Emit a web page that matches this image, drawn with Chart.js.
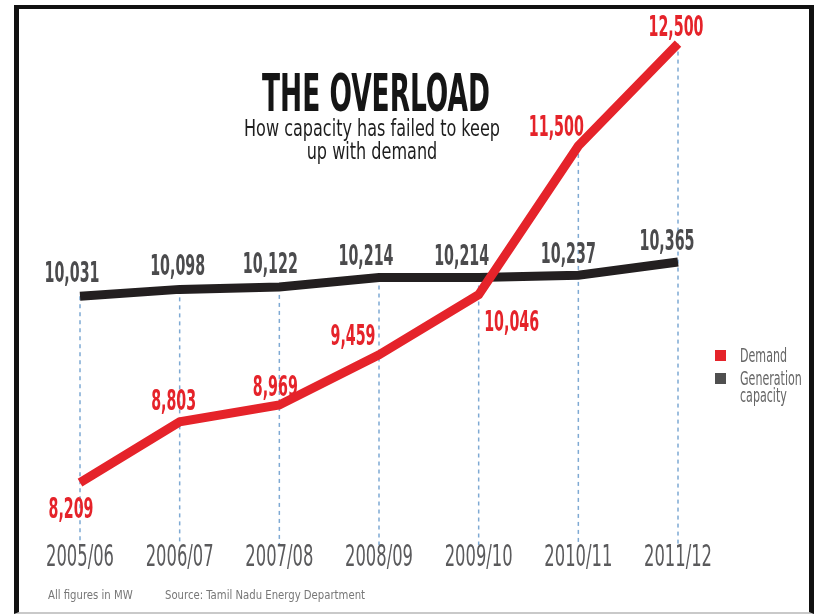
<!DOCTYPE html>
<html>
<head>
<meta charset="utf-8">
<script src="https://cdn.jsdelivr.net/npm/chart.js@4/dist/chart.umd.min.js"></script>
<style>
  html, body { margin: 0; padding: 0; background: #fff; }
  #wrap { position: relative; width: 819px; height: 616px; }
  #chart { position: absolute; left: 0; top: 0; }
  #frame {
    position: absolute; left: 14px; top: 5px; width: 790px; height: 603px;
    border: 5px solid #111; border-top-width: 4px; border-bottom: 2px solid #c9c9c9;
    pointer-events: none;
  }
</style>
</head>
<body>
<div id="wrap">
  <canvas id="chart" width="819" height="616"></canvas>
  <div id="frame"></div>
</div>
<script>
const seasons = ["2005/06", "2006/07", "2007/08", "2008/09", "2009/10", "2010/11", "2011/12"];
const demand = [8209, 8803, 8969, 9459, 10046, 11500, 12500];
const generation = [10031, 10098, 10122, 10214, 10214, 10237, 10365];

const RED = "#e5232a";
const BLACK = "#231f20";
const GREY_TEXT = "#4b4b4d";
const NARROW = '"Liberation Sans Narrow", "DejaVu Sans Condensed", "Liberation Sans", sans-serif';

// where each value label sits relative to its point
const LABEL_OFFSETS = {
  demand: [[-9, 35], [-6, -12], [-4, -9], [-26, -10], [33, 36], [-22, -10], [-2, -8]],
  generation: [[-8, -14], [-2, -14], [-9, -14], [-13, -13], [-17, -13], [-10, -12], [-11, -12]],
};

const fmt = (n) => new Intl.NumberFormat("en-US").format(n);

// draw text squeezed horizontally by sx
function drawText(ctx, text, x, y, font, color, sx, align) {
  ctx.save();
  ctx.font = font;
  ctx.fillStyle = color;
  ctx.textAlign = "left";
  ctx.textBaseline = "alphabetic";
  const w = ctx.measureText(text).width * sx;
  const left = align === "center" ? x - w / 2 : align === "right" ? x - w : x;
  ctx.translate(left, y);
  ctx.scale(sx, 1);
  ctx.fillText(text, 0, 0);
  ctx.restore();
}

function squeezeFor(ctx, font, sample, width) {
  ctx.save();
  ctx.font = font;
  const w = ctx.measureText(sample).width;
  ctx.restore();
  return width / w;
}

const overlay = {
  id: "overlay",
  beforeDatasetsDraw(chart) {
    const { ctx, chartArea, scales } = chart;
    ctx.save();
    ctx.strokeStyle = "#7ea9d3";
    ctx.lineWidth = 1.5;
    ctx.setLineDash([4, 4]);
    seasons.forEach((s, i) => {
      const x = scales.x.getPixelForValue(i);
      const top = Math.min(scales.y.getPixelForValue(demand[i]), scales.y.getPixelForValue(generation[i]));
      ctx.beginPath();
      ctx.moveTo(x, top);
      ctx.lineTo(x, chartArea.bottom);
      ctx.stroke();
    });
    ctx.restore();
  },
  afterDatasetsDraw(chart) {
    const { ctx } = chart;
    const font = "bold 28px " + NARROW;
    const sx = squeezeFor(ctx, font, "10,031", 55);
    const series = [
      { key: "demand", color: RED, meta: chart.getDatasetMeta(0), values: demand },
      { key: "generation", color: GREY_TEXT, meta: chart.getDatasetMeta(1), values: generation },
    ];
    series.forEach((s) => {
      s.meta.data.forEach((pt, i) => {
        const [dx, dy] = LABEL_OFFSETS[s.key][i];
        drawText(ctx, fmt(s.values[i]), pt.x + dx, pt.y + dy, font, s.color, sx, "center");
      });
    });
  },
  afterDraw(chart) {
    const { ctx, chartArea, scales } = chart;

    // season labels under the guides
    const tickFont = "30px " + NARROW;
    const tsx = squeezeFor(ctx, tickFont, "2009/10", 68);
    seasons.forEach((s, i) => {
      drawText(ctx, s, scales.x.getPixelForValue(i), chartArea.bottom + 21, tickFont, "#5a5a5c", tsx, "center");
    });

    // heading
    const titleFont = "bold 52px " + NARROW;
    drawText(ctx, "THE OVERLOAD", 376, 111, titleFont, "#151515", squeezeFor(ctx, titleFont, "THE OVERLOAD", 228), "center");
    const subFont = "23px " + NARROW;
    const ssx = squeezeFor(ctx, subFont, "How capacity has failed to keep", 256);
    drawText(ctx, "How capacity has failed to keep", 372, 136, subFont, "#1e1e1e", ssx, "center");
    drawText(ctx, "up with demand", 372, 159, subFont, "#1e1e1e", ssx, "center");

    // legend
    const legFont = "19px " + NARROW;
    const lsx = squeezeFor(ctx, legFont, "Demand", 47);
    ctx.fillStyle = RED;
    ctx.fillRect(715, 350, 11, 11);
    ctx.fillStyle = "#4f4f4f";
    ctx.fillRect(715, 373, 11, 11);
    drawText(ctx, "Demand", 740, 362, legFont, "#666", lsx, "left");
    drawText(ctx, "Generation", 740, 385, legFont, "#666", lsx, "left");
    drawText(ctx, "capacity", 740, 402, legFont, "#666", lsx, "left");

    // footnotes
    const footFont = "12px " + NARROW;
    const fsx = squeezeFor(ctx, footFont, "Source: Tamil Nadu Energy Department", 200);
    drawText(ctx, "All figures in MW", 48, 599, footFont, "#777", fsx, "left");
    drawText(ctx, "Source: Tamil Nadu Energy Department", 165, 599, footFont, "#777", fsx, "left");
  },
};

new Chart(document.getElementById("chart"), {
  type: "line",
  data: {
    labels: seasons,
    datasets: [
      { label: "Demand", data: demand, borderColor: RED, backgroundColor: RED, borderWidth: 9 },
      { label: "Generation capacity", data: generation, borderColor: BLACK, backgroundColor: BLACK, borderWidth: 9 },
    ],
  },
  options: {
    responsive: false,
    animation: false,
    events: [],
    layout: { padding: { left: 80, right: 141, top: 18, bottom: 71 } },
    elements: {
      line: { tension: 0, borderCapStyle: "butt", borderJoinStyle: "miter", fill: false },
      point: { radius: 0 },
    },
    scales: {
      x: { type: "category", display: false, offset: false },
      y: { display: false, min: 7600, max: 12750 },
    },
    plugins: { legend: { display: false }, tooltip: { enabled: false } },
  },
  plugins: [overlay],
});
</script>
</body>
</html>
